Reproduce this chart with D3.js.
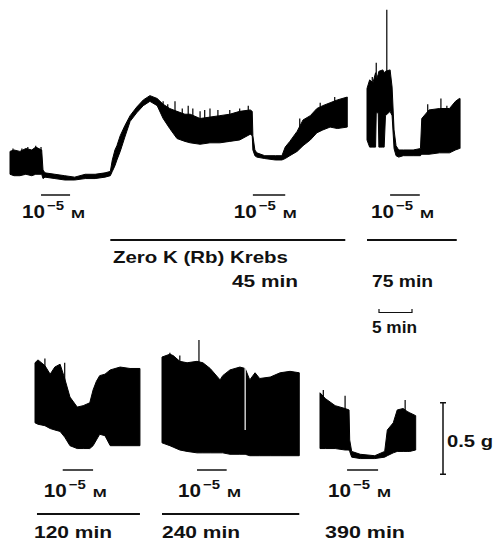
<!DOCTYPE html>
<html>
<head>
<meta charset="utf-8">
<script src="https://cdn.jsdelivr.net/npm/d3@7"></script>
<style>
body { margin: 0; background: #fff; }
text { font-family: "Liberation Sans", Arial, sans-serif; font-weight: bold; fill: #111; }
</style>
</head>
<body>
<div id="chart"></div>
<script>
// Tension envelopes: [time (min), low (g), high (g)]
const traceA = [
    [0, 0.04, 0.20], [0.6, 0.03, 0.21], [1.5, 0.03, 0.20], [2.4, 0.04, 0.22], [3.3, 0.03, 0.21],
    [3.9, 0.04, 0.23], [4.8, 0.04, 0.21], [5.0, 0.01, 0.07], [5.3, 0.02, 0.05], [6.8, 0.01, 0.04],
    [8.3, 0.00, 0.03], [9.8, 0.00, 0.02], [11.4, 0.01, 0.04], [12.9, 0.01, 0.04], [14.4, 0.02, 0.05],
    [15.2, 0.03, 0.06], [15.5, 0.06, 0.14], [15.9, 0.10, 0.21], [16.2, 0.14, 0.24], [16.7, 0.20, 0.31],
    [17.4, 0.30, 0.38], [18.2, 0.41, 0.45], [19.2, 0.47, 0.51], [20.2, 0.52, 0.56], [21.2, 0.55, 0.59],
    [22.3, 0.52, 0.57], [23.2, 0.43, 0.53], [24.2, 0.36, 0.50], [25.3, 0.29, 0.48], [26.5, 0.27, 0.46],
    [27.3, 0.26, 0.46], [28.8, 0.25, 0.43], [30.3, 0.26, 0.44], [31.8, 0.26, 0.45], [33.3, 0.27, 0.46],
    [34.8, 0.28, 0.48], [36.4, 0.32, 0.49], [36.7, 0.31, 0.48], [36.8, 0.21, 0.31], [37.1, 0.17, 0.21],
    [37.4, 0.16, 0.19], [38.6, 0.15, 0.17], [40.2, 0.14, 0.17], [41.2, 0.14, 0.17], [41.7, 0.15, 0.23],
    [42.4, 0.17, 0.27], [43.5, 0.20, 0.34], [44.4, 0.24, 0.42], [45.5, 0.28, 0.45], [46.5, 0.33, 0.50],
    [47.4, 0.35, 0.52], [48.5, 0.37, 0.54], [49.6, 0.36, 0.56], [51.1, 0.37, 0.58]
];
const traceB = [
    [0, 0.28, 0.64], [0.4, 0.23, 0.70], [0.9, 0.23, 0.68], [1.3, 0.23, 0.75], [1.4, 0.47, 0.70],
    [1.7, 0.47, 0.74], [1.8, 0.23, 0.76], [2.4, 0.23, 0.77], [2.6, 0.23, 0.75], [2.8, 0.45, 0.76],
    [3.5, 0.48, 0.77], [3.8, 0.45, 0.65], [4.1, 0.22, 0.35], [4.4, 0.17, 0.24], [4.8, 0.16, 0.21],
    [5.5, 0.17, 0.21], [7.0, 0.17, 0.21], [8.1, 0.17, 0.22], [8.3, 0.18, 0.43], [9.4, 0.18, 0.49],
    [11.0, 0.19, 0.50], [12.5, 0.19, 0.50], [13.4, 0.21, 0.55], [14.0, 0.22, 0.57], [14.1, 0.22, 0.57]
];
const traceC = [
    [0, 0.26, 0.68], [0.45, 0.25, 0.70], [1.5, 0.24, 0.66], [2.3, 0.22, 0.60], [3.0, 0.21, 0.65],
    [3.8, 0.20, 0.67], [4.5, 0.16, 0.57], [5.3, 0.10, 0.44], [6.4, 0.08, 0.37], [7.3, 0.08, 0.38],
    [8.3, 0.08, 0.40], [8.8, 0.10, 0.49], [9.3, 0.14, 0.55], [9.8, 0.18, 0.59], [10.6, 0.17, 0.60],
    [11.4, 0.10, 0.63], [12.9, 0.10, 0.65], [14.4, 0.10, 0.64], [15.9, 0.10, 0.64]
];
const traceD = [
    [0, 0.12, 0.72], [1.2, 0.10, 0.74], [1.7, 0.09, 0.73], [2.7, 0.07, 0.69], [3.8, 0.06, 0.68],
    [5.3, 0.05, 0.69], [6.2, 0.05, 0.68], [7.3, 0.05, 0.64], [8.8, 0.05, 0.56], [9.2, 0.05, 0.59],
    [10.3, 0.04, 0.63], [11.8, 0.04, 0.65], [12.6, 0.04, 0.64], [13.3, 0.03, 0.56], [14.1, 0.03, 0.61],
    [14.8, 0.03, 0.57], [16.4, 0.03, 0.58], [17.9, 0.03, 0.61], [19.4, 0.03, 0.62], [20.8, 0.03, 0.61]
];
const traceE = [
    [0, 0.08, 0.47], [0.8, 0.08, 0.43], [2.3, 0.08, 0.38], [3.8, 0.07, 0.36], [4.4, 0.07, 0.35],
    [4.5, 0.06, 0.14], [4.8, 0.02, 0.06], [6.1, 0.01, 0.04], [8.3, 0.01, 0.03], [9.8, 0.02, 0.06],
    [10.2, 0.03, 0.21], [11.1, 0.05, 0.26], [11.7, 0.06, 0.35], [12.6, 0.06, 0.36], [13.2, 0.06, 0.34],
    [13.6, 0.06, 0.33], [14.5, 0.07, 0.31]
];

// single twitch peaks sticking out of the envelope: [time (min), peak (g)]
const spikesA = [[0.45, 0.22], [1.8, 0.22], [2.7, 0.23], [3.9, 0.24], [4.7, 0.23],
    [23.2, 0.55], [23.9, 0.53], [25.0, 0.55], [26.1, 0.50], [27.0, 0.52], [27.7, 0.50],
    [28.8, 0.48], [29.5, 0.49], [30.3, 0.50], [31.5, 0.49], [33.3, 0.49], [34.8, 0.50],
    [36.1, 0.52], [43.9, 0.43], [47.0, 0.54], [49.2, 0.58]];
const spikesB = [[0.8, 0.72], [1.4, 0.82], [3.0, 1.19], [9.2, 0.53], [11.2, 0.57], [12.1, 0.52]];
const spikesC = [[1.5, 0.71], [4.5, 0.68]];
const spikesD = [[1.2, 0.75], [2.7, 0.73], [5.6, 0.84]];
const spikesE = [[0.5, 0.49], [3.8, 0.45], [12.9, 0.42]];
// white break in the 240 min trace: [time, low, high]
const breaksD = [[12.6, 0.21, 0.65]];

// 10^-5 M applications [start, end] (min)
const drugA = [[4.7, 9.1], [36.8, 41.7]];
const drugB = [[3.5, 8.0]];
const drugC = [[4.2, 8.8]];
const drugD = [[5.3, 9.8]];
const drugE = [[4.1, 8.8]];

// zero K (Rb) Krebs exposure [start, end] (min)
const solA = [[15.2, 50.8]];
const solB = [[0, 13.6]];
const solC = [[0.3, 15.9]];
const solD = [[0, 20.8]];
const solE = [];

const doseLabel = ['10', '\u22125', 'M'];
const solutionLabel = 'Zero K (Rb) Krebs';
const timeLabels = ['45 min', '75 min', '120 min', '240 min', '390 min'];
const scaleLabels = ['5 min', '0.5 g'];

const width = 496;
const height = 542;

const svg = d3.select('#chart')
    .append('svg')
    .attr('width', width)
    .attr('height', height);

// grams -> px, one scale per row of recordings
const yTop = d3.scaleLinear().domain([0, 0.5]).range([180, 108.5]);
const yBottom = d3.scaleLinear().domain([0, 0.5]).range([460, 388.5]);
// minutes -> px, same chart speed everywhere, only the start differs
const minutes = (left) => d3.scaleLinear().domain([0, 5]).range([left, left + 33]);

const rows = {
    top: { y: yTop, drugY: 195, doseY: 218, solY: 240 },
    bottom: { y: yBottom, drugY: 470, doseY: 497, solY: 514 }
};

const panels = [
    { trace: traceA, spikes: spikesA, drug: drugA, sol: solA, left: 10, row: rows.top },
    { trace: traceB, spikes: spikesB, drug: drugB, sol: solB, left: 367, row: rows.top },
    { trace: traceC, spikes: spikesC, drug: drugC, sol: solC, left: 35, row: rows.bottom },
    { trace: traceD, spikes: spikesD, drug: drugD, sol: solD, left: 162, row: rows.bottom, breaks: breaksD },
    { trace: traceE, spikes: spikesE, drug: drugE, sol: solE, left: 320, row: rows.bottom }
];

const highAt = (trace, t) => {
    const i = d3.bisector((d) => d[0]).left(trace, t);
    if (i <= 0) return trace[0][2];
    if (i >= trace.length) return trace[trace.length - 1][2];
    const a = trace[i - 1], b = trace[i];
    return a[2] + (b[2] - a[2]) * (t - a[0]) / (b[0] - a[0]);
};

// stretched bold text, the print face is wider than Arial
const label = (parent, txt, x, y, size, len) => parent.append('text')
    .attr('x', x)
    .attr('y', y)
    .attr('font-size', size)
    .attr('textLength', len)
    .attr('lengthAdjust', 'spacingAndGlyphs')
    .text(txt);

panels.forEach((p) => {
    const x = minutes(p.left);
    const y = p.row.y;
    const g = svg.append('g');

    const area = d3.area()
        .x((d) => x(d[0]))
        .y0((d) => y(d[1]))
        .y1((d) => y(d[2]));

    g.append('path')
        .datum(p.trace)
        .attr('d', area)
        .attr('fill', '#000')
        .attr('stroke', '#000')
        .attr('stroke-width', 1)
        .attr('stroke-linejoin', 'round');

    g.selectAll('.spike')
        .data(p.spikes)
        .enter()
        .append('line')
        .attr('x1', (d) => x(d[0]))
        .attr('x2', (d) => x(d[0]))
        .attr('y1', (d) => y(d[1]))
        .attr('y2', (d) => y(highAt(p.trace, d[0])) + 2)
        .attr('stroke', '#000')
        .attr('stroke-width', 1.2);

    if (p.breaks) {
        g.selectAll('.break')
            .data(p.breaks)
            .enter()
            .append('line')
            .attr('x1', (d) => x(d[0]))
            .attr('x2', (d) => x(d[0]))
            .attr('y1', (d) => y(d[1]))
            .attr('y2', (d) => y(d[2]))
            .attr('stroke', '#fff')
            .attr('stroke-width', 1.2);
    }

    // drug bar + dose label
    p.drug.forEach((d) => {
        g.append('line')
            .attr('x1', x(d[0])).attr('x2', x(d[1]))
            .attr('y1', p.row.drugY).attr('y2', p.row.drugY)
            .attr('stroke', '#111')
            .attr('stroke-width', 1.5);

        const x0 = x(d[0]) - 19;
        label(g, doseLabel[0], x0, p.row.doseY, 18, 23);
        label(g, doseLabel[1], x0 + 25, p.row.doseY - 8, 13, 17);
        label(g, doseLabel[2], x0 + 49, p.row.doseY, 11.5, 14);
    });

    // solution bar
    p.sol.forEach((d) => {
        g.append('line')
            .attr('x1', x(d[0])).attr('x2', x(d[1]))
            .attr('y1', p.row.solY).attr('y2', p.row.solY)
            .attr('stroke', '#111')
            .attr('stroke-width', 2.2);
    });
});

label(svg, solutionLabel, 113, 263, 16.5, 175);
label(svg, timeLabels[0], 232, 287, 16.5, 66);
label(svg, timeLabels[1], 372, 287, 16.5, 61);
label(svg, timeLabels[2], 34, 538, 16.5, 78);
label(svg, timeLabels[3], 162, 538, 16.5, 78);
label(svg, timeLabels[4], 325, 538, 16.5, 80);

// 5 min calibration
const xCal = minutes(379);
svg.append('path')
    .attr('d', `M${xCal(0)},309V312.5H${xCal(5)}V309`)
    .attr('fill', 'none')
    .attr('stroke', '#111')
    .attr('stroke-width', 1.2);
label(svg, scaleLabels[0], 372, 333, 16.5, 45);

// 0.5 g calibration
const calX = 443;
svg.append('path')
    .attr('d', `M${calX},${yBottom(-0.1)}V${yBottom(0.4)}M${calX - 3},${yBottom(-0.1)}H${calX + 3}M${calX - 3},${yBottom(0.4)}H${calX + 3}`)
    .attr('fill', 'none')
    .attr('stroke', '#111')
    .attr('stroke-width', 1.5);
label(svg, scaleLabels[1], 447, 447, 16.5, 46);
</script>
</body>
</html>
